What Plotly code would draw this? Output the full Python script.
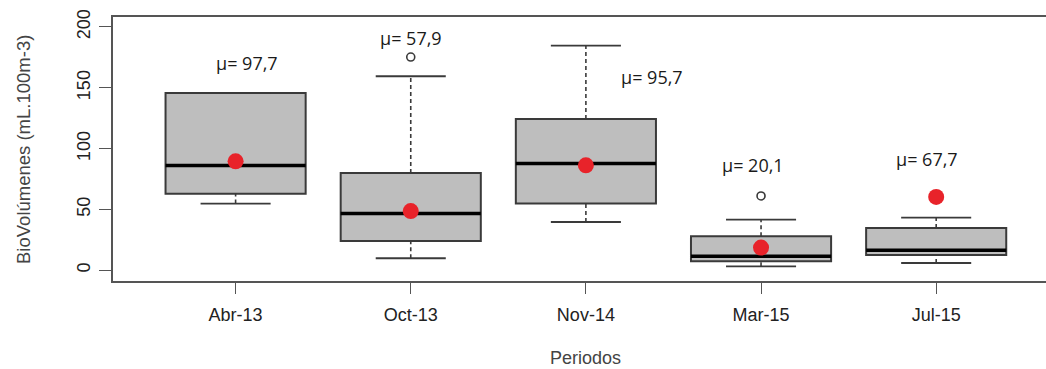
import plotly.graph_objects as go

# ---- data ----
periods = ["Abr-13", "Oct-13", "Nov-14", "Mar-15", "Jul-15"]
q1 = [63.0, 24.1, 54.8, 7.4, 12.6]
median = [86.1, 46.6, 87.7, 11.5, 16.4]
q3 = [145.7, 80.0, 124.4, 27.9, 34.8]
whisker_low = [54.8, 9.9, 39.7, 3.3, 6.0]
whisker_high = [145.7, 159.5, 184.7, 41.7, 43.3]
outlier_period = ["Oct-13", "Mar-15"]
outlier_value = [175.3, 61.1]
mean_dot = [89.6, 48.7, 86.3, 18.7, 60.3]
mean_label = ["μ= 97,7", "μ= 57,9", "μ= 95,7", "μ= 20,1", "μ= 67,7"]

# ---- layout / positions (not data) ----
label_dx = [0.063, 0.0, 0.376, -0.044, -0.054]
label_y = [170.2, 191.3, 158.9, 86.3, 91.8]
BOX_W = 0.8
STAPLE_W = 0.4

pos = list(range(1, len(periods) + 1))
pmap = dict(zip(periods, pos))

fig = go.Figure()

# boxes (body only)
fig.add_trace(go.Box(
    x=pos, q1=q1, median=median, q3=q3,
    lowerfence=q1, upperfence=q3,
    width=BOX_W, whiskerwidth=0, boxpoints=False,
    fillcolor="#bebebe", line=dict(color="#3a3a3a", width=2),
    hoverinfo="skip", showlegend=False,
))

# dashed whiskers
wx, wy = [], []
for p, a, b, lo, hi in zip(pos, q1, q3, whisker_low, whisker_high):
    if lo < a:
        wx += [p, p, None]; wy += [lo, a, None]
    if hi > b:
        wx += [p, p, None]; wy += [b, hi, None]
fig.add_trace(go.Scatter(x=wx, y=wy, mode="lines",
                         line=dict(color="#3a3a3a", width=1.6, dash="4px,3px"),
                         hoverinfo="skip", showlegend=False))

# staples
sx, sy = [], []
for p, lo, hi in zip(pos, whisker_low, whisker_high):
    for v in (lo, hi):
        sx += [p - STAPLE_W / 2, p + STAPLE_W / 2, None]; sy += [v, v, None]
fig.add_trace(go.Scatter(x=sx, y=sy, mode="lines",
                         line=dict(color="#3a3a3a", width=1.8),
                         hoverinfo="skip", showlegend=False))

# thick medians
mx, my = [], []
for p, m in zip(pos, median):
    mx += [p - BOX_W / 2, p + BOX_W / 2, None]; my += [m, m, None]
fig.add_trace(go.Scatter(x=mx, y=my, mode="lines",
                         line=dict(color="#000000", width=3.5),
                         hoverinfo="skip", showlegend=False))

# outliers
fig.add_trace(go.Scatter(x=[pmap[o] for o in outlier_period], y=outlier_value,
                         mode="markers",
                         marker=dict(symbol="circle-open", size=8,
                                     color="#3a3a3a", line=dict(width=1.6)),
                         hoverinfo="skip", showlegend=False))

# means
fig.add_trace(go.Scatter(x=pos, y=mean_dot, mode="markers",
                         marker=dict(size=16, color="#e8232a"),
                         hoverinfo="skip", showlegend=False))

# mean labels
for p, dx, ly, t in zip(pos, label_dx, label_y, mean_label):
    fig.add_annotation(x=p + dx, y=ly, text=t, showarrow=False,
                       xanchor="center", yanchor="middle",
                       font=dict(family="Open Sans", size=18, color="#1a1a1a"))

# axis titles
fig.add_annotation(x=3, xref="x", y=-0.29, yref="paper", text="Periodos",
                   showarrow=False, xanchor="center", yanchor="middle",
                   font=dict(family="Liberation Sans", size=18, color="#444444"))
fig.add_annotation(x=-0.0965, xref="paper", y=0.5, yref="paper",
                   text="BioVolúmenes (mL.100m-3)", textangle=-90,
                   showarrow=False, xanchor="center", yanchor="middle",
                   font=dict(family="Liberation Sans", size=18.5, color="#444444"))

fig.update_layout(
    width=1046, height=369,
    margin=dict(l=113, r=0, t=17, b=88),
    plot_bgcolor="white", paper_bgcolor="white",
    font=dict(family="Liberation Sans", color="#444444"),
)
fig.update_xaxes(
    range=[0.3, 5.627], tickvals=pos, ticktext=periods,
    showgrid=False, zeroline=False,
    showline=True, linecolor="#555555", linewidth=1.6, mirror=True,
    ticks="outside", ticklen=11, tickcolor="#555555", tickwidth=1.4,
    ticklabelstandoff=6,
    tickfont=dict(size=18, color="#222222"),
)
fig.update_yaxes(
    range=[-8.8, 208.2], tickvals=[0, 50, 100, 150, 200],
    tickangle=-90,
    showgrid=False, zeroline=False,
    showline=True, linecolor="#555555", linewidth=1.6, mirror=False,
    ticks="outside", ticklen=12, tickcolor="#555555", tickwidth=1.4,
    ticklabelstandoff=2,
    tickfont=dict(size=18, color="#222222"),
)

fig.write_html("out.html")
